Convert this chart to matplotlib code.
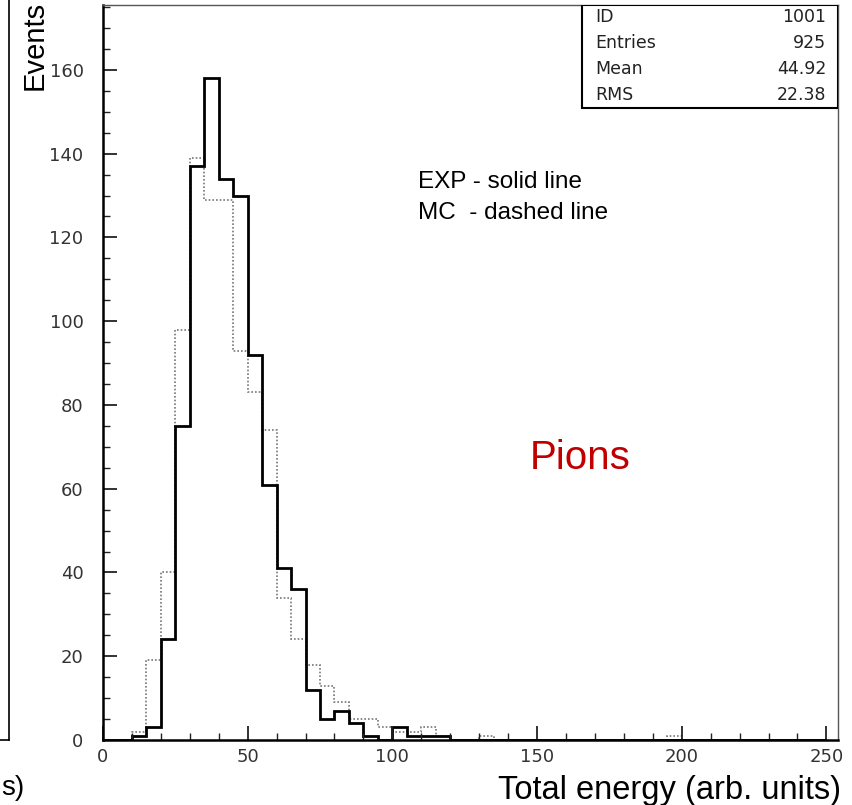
import numpy as np
import matplotlib.pyplot as plt
from matplotlib.lines import Line2D
from matplotlib.ticker import MultipleLocator

# histogram bins (arb. units), 5 wide from 0 to 250
edges = np.arange(0, 255, 5)

exp_counts = [0, 0, 1, 3, 24, 75, 137, 158, 134, 130,
              92, 61, 41, 36, 12, 5, 7, 4, 1, 0,
              3, 1, 1, 1, 0, 0, 0, 0, 0, 0,
              0, 0, 0, 0, 0, 0, 0, 0, 0, 0,
              0, 0, 0, 0, 0, 0, 0, 0, 0, 0]

mc_counts = [0, 0, 2, 19, 40, 98, 139, 129, 129, 93,
             83, 74, 34, 24, 18, 13, 9, 5, 5, 3,
             2, 2, 3, 1, 0, 0, 1, 0, 0, 0,
             0, 0, 0, 0, 0, 0, 0, 0, 0, 1,
             0, 0, 0, 0, 0, 0, 0, 0, 0, 0]

stat_names = ["ID", "Entries", "Mean", "RMS"]
stat_values = ["1001", "925", "44.92", "22.38"]

W, H = 853, 805
fig = plt.figure(figsize=(W / 100, H / 100), dpi=100)
ax = fig.add_axes([103 / W, 1 - 740 / H, (838 - 103) / W, (740 - 5) / H])

ax.stairs(mc_counts, edges, color="#777777", lw=1.2, ls=(0, (1, 1.2)))
ax.stairs(exp_counts, edges, color="black", lw=2.0)

ax.set_xlim(0, 254)
ax.set_ylim(0, 175.5)

ax.xaxis.set_major_locator(MultipleLocator(50))
ax.xaxis.set_minor_locator(MultipleLocator(10))
ax.yaxis.set_major_locator(MultipleLocator(20))
ax.yaxis.set_minor_locator(MultipleLocator(5))
ax.tick_params(which="both", direction="in", top=False, right=False,
               colors="#222222", labelcolor="#333333")
ax.tick_params(which="major", length=10, width=1.3, labelsize=13)
ax.tick_params(which="minor", length=5, width=1.0)
ax.tick_params(axis="y", pad=14)
ax.tick_params(axis="x", pad=6)

for side in ["left", "bottom"]:
    ax.spines[side].set_linewidth(1.8)
for side in ["top", "right"]:
    ax.spines[side].set_linewidth(1.0)
    ax.spines[side].set_color("#555555")

# statistics box
box_x0, box_x1 = (582 - 103) / (838 - 103), 1.0
box_y0 = 1 - (108 - 5) / (740 - 5)
ax.add_patch(plt.Rectangle((box_x0, box_y0), box_x1 - box_x0, 1 - box_y0,
                           transform=ax.transAxes, fill=True, fc="white",
                           ec="black", lw=1.5, zorder=5))
row_y = [17, 43, 69, 95]
for name, val, y in zip(stat_names, stat_values, row_y):
    yy = 1 - (y - 5) / (740 - 5)
    ax.text(box_x0 + 0.018, yy, name, transform=ax.transAxes, ha="left",
            va="center", fontsize=12.5, color="#222222", zorder=6)
    ax.text(box_x1 - 0.016, yy, val, transform=ax.transAxes, ha="right",
            va="center", fontsize=12.5, color="#222222", zorder=6)

txt_font = ["Liberation Sans", "DejaVu Sans"]
fig.text(418 / W, 1 - 182 / H, "EXP - solid line", ha="left", va="center",
         fontsize=17.5, family=txt_font)
fig.text(418 / W, 1 - 213 / H, "MC  - dashed line", ha="left", va="center",
         fontsize=17.5, family=txt_font)
fig.text(580 / W, 1 - 458 / H, "Pions", ha="center", va="center",
         fontsize=29, color="#c00000", family=txt_font)

fig.text(35 / W, 1 - 1 / H, "Events", rotation=90, ha="center", va="top",
         fontsize=21, family=txt_font)
fig.text(841 / W, 1 - 790 / H, "Total energy (arb. units)", ha="right",
         va="center", fontsize=23.5, family=txt_font)

# edge of the neighbouring panel on the left
fig.add_artist(Line2D([9 / W, 9 / W], [1 - 740 / H, 1.0], color="black", lw=1.2))
fig.add_artist(Line2D([0, 9 / W], [1 - 740 / H, 1 - 740 / H], color="black", lw=1.2))
fig.text(1 / W, 1 - 788 / H, "s)", ha="left", va="center", fontsize=20,
         family=txt_font)

fig.savefig("out.png", dpi=100)
